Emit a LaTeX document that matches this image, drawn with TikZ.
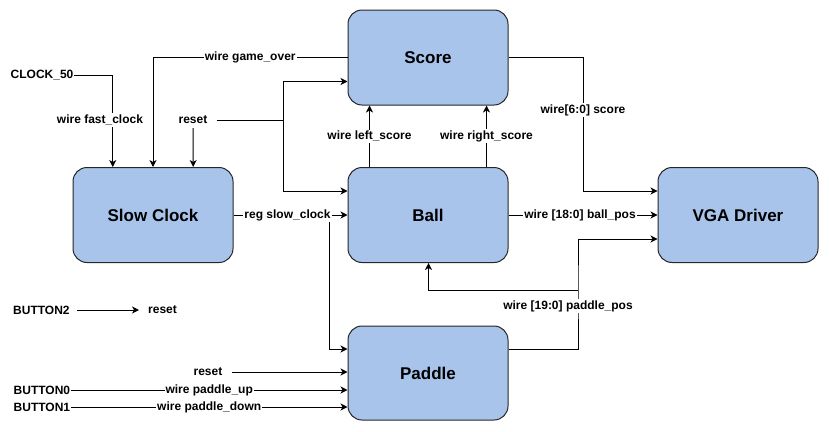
\documentclass[tikz,border=0pt]{standalone}
\usepackage{fontspec}
\setmainfont{Liberation Sans}
\usetikzlibrary{arrows.meta,calc}

\definecolor{blockblue}{HTML}{A9C4EB}

\tikzset{
  block/.style={draw=black!85, fill=blockblue, rounded corners=14pt, line width=1pt,
    minimum width=160pt, minimum height=95pt, font=\fontsize{17}{20}\selectfont\bfseries},
  wire/.style={line width=1pt, -{Stealth[length=7pt, width=7pt, inset=2pt]}},
  line/.style={line width=1pt},
  lbl/.style={fill=white, inner xsep=1pt, inner ysep=1.5pt, font=\fontsize{12}{14}\selectfont\bfseries},
  port/.style={inner sep=0.5pt, font=\fontsize{12}{14}\selectfont\bfseries},
  sig/.style={inner xsep=9pt, inner ysep=4pt, font=\fontsize{12}{14}\selectfont\bfseries}
}

\begin{document}
\begin{tikzpicture}[x=1pt, y=-1pt]
  \useasboundingbox (0,0) rectangle (829,431);

  % Blocks
  \node[block] (score)  at (428,57.5) {Score};
  \node[block] (slow)   at (153,215)  {Slow Clock};
  \node[block] (ball)   at (428,215)  {Ball};
  \node[block] (vga)    at (738,215)  {VGA Driver};
  \node[block, minimum height=94pt] (paddle) at (428,373) {Paddle};

  % Inputs and signal names
  \node[port, anchor=west] (clk)  at (10,75)  {CLOCK\_50};
  \node[sig] (rst)                at (193,120) {reset};
  \node[sig, anchor=west, inner xsep=7pt] (btn2) at (6,310) {BUTTON2};
  \node[sig, anchor=west] (rstb)  at (139,310) {reset};
  \node[sig] (rstp)               at (208,372) {reset};
  \node[port, anchor=west] (btn0) at (13,390) {BUTTON0};
  \node[port, anchor=west] (btn1) at (13,407) {BUTTON1};

  % Bend points
  \coordinate (rstfork) at (283,120);
  \coordinate (clkfork) at (329,215);
  \coordinate (scoreturn) at (583,57.5);
  \coordinate (padfork) at (578,290);

  % Slow Clock inputs
  \draw[wire] (clk.east) -| ($(slow.north west)!0.25!(slow.north east)$);
  \node[lbl] at (100,120) {wire fast\_clock};
  \draw[wire] (score.west) -| (slow.north) node[lbl, pos=0.25] {wire game\_over};
  \draw[wire] (rst.south) -- ($(slow.north west)!0.75!(slow.north east)$);

  % reset to Score and Ball
  \draw[line] (rst.east) -- (rstfork);
  \draw[wire] (rstfork) |- ([yshift=-24pt]score.west);
  \draw[wire] (rstfork) |- ([yshift=24pt]ball.west);

  % slow clock to Ball and Paddle
  \draw[wire] (clkfork) |- ([yshift=24pt]paddle.west);
  \draw[wire] (slow.east) -- (ball.west) node[lbl, midway, xshift=-3pt] {reg slow\_clock};

  % Ball to Score
  \draw[wire] ([xshift=22pt]ball.north west) -- ([xshift=22pt]score.south west)
    node[lbl, midway] {wire left\_score};
  \draw[wire] ([xshift=139pt]ball.north west) -- ([xshift=139pt]score.south west)
    node[lbl, midway] {wire right\_score};

  % to VGA Driver
  \draw[wire] (score.east) -- (scoreturn) |- ([yshift=24pt]vga.west);
  \node[lbl] at (583,110) {wire[6:0] score};
  \draw[wire] (ball.east) -- (vga.west) node[lbl, midway, xshift=-3pt] {wire [18:0] ball\_pos};
  \draw[wire] ([yshift=24pt]paddle.east) -| (padfork) |- ([yshift=-24pt]vga.west);
  \draw[wire] (padfork) -| ([xshift=81pt]ball.south west);
  \node[lbl] at (568,306) {wire [19:0] paddle\_pos};

  % Buttons
  \draw[wire] (btn2.east) -- (rstb.west);
  \draw[wire] (rstp.east) -- (rstp.east -| paddle.west);
  \draw[wire] (btn0.east) -- (btn0.east -| paddle.west) node[lbl, midway] {wire paddle\_up};
  \draw[wire] (btn1.east) -- (btn1.east -| paddle.west) node[lbl, midway] {wire paddle\_down};
\end{tikzpicture}
\end{document}
